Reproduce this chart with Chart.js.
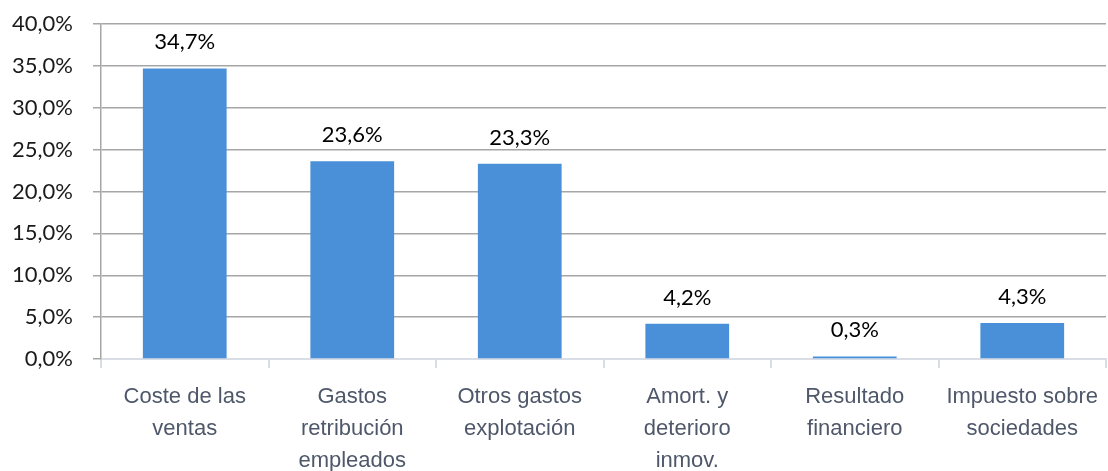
<!DOCTYPE html>
<html>
<head>
<meta charset="utf-8">
<script src="https://cdn.jsdelivr.net/npm/chart.js@4/dist/chart.umd.min.js"></script>
<style>
  html, body { margin: 0; padding: 0; background: #ffffff; }
  #wrap { width: 1108px; height: 471px; position: relative; }
</style>
</head>
<body>
<div id="wrap"><canvas id="c" width="1108" height="471"></canvas></div>
<script>
const categories = [
  ["Coste de las", "ventas"],
  ["Gastos", "retribución", "empleados"],
  ["Otros gastos", "explotación"],
  ["Amort. y", "deterioro", "inmov."],
  ["Resultado", "financiero"],
  ["Impuesto sobre", "sociedades"]
];
const values = [34.7, 23.6, 23.3, 4.2, 0.3, 4.3];
const yTicks = [0, 5, 10, 15, 20, 25, 30, 35, 40];

const fmt = v => v.toFixed(1).replace('.', ',') + '%';

const dataLabels = {
  id: 'dataLabels',
  afterDatasetsDraw(chart) {
    const ctx = chart.ctx;
    const meta = chart.getDatasetMeta(0);
    ctx.save();
    ctx.font = '22px Lato';
    ctx.fillStyle = '#000000';
    ctx.textAlign = 'center';
    ctx.textBaseline = 'alphabetic';
    meta.data.forEach((bar, i) => {
      ctx.fillText(fmt(values[i]), bar.x, bar.y - 19);
    });
    ctx.restore();
  }
};

new Chart(document.getElementById('c'), {
  type: 'bar',
  data: {
    labels: categories,
    datasets: [{
      data: values,
      backgroundColor: '#4a90d9',
      barPercentage: 0.5,
      categoryPercentage: 1.0
    }]
  },
  options: {
    responsive: false,
    animation: false,
    layout: { padding: { top: 24, right: 2, left: 0, bottom: 0 } },
    plugins: { legend: { display: false }, tooltip: { enabled: false } },
    scales: {
      x: {
        offset: true,
        grid: {
          offset: true,
          drawOnChartArea: false,
          drawTicks: true,
          tickLength: 9,
          color: '#d9dde6',
          lineWidth: 2
        },
        border: { color: '#d9dde6', width: 2 },
        ticks: {
          maxRotation: 0,
          autoSkip: false,
          padding: 13,
          color: '#4f586a',
          font: { family: 'Liberation Sans', size: 22, lineHeight: 1.45 }
        },
        afterFit(scale) { scale.height = 112; scale.paddingLeft = 0; scale.paddingRight = 0; }
      },
      y: {
        min: 0,
        max: 40,
        afterBuildTicks(scale) { scale.ticks = yTicks.map(v => ({ value: v })); },
        grid: {
          color: ctx => (ctx.tick && ctx.tick.value === 0) ? 'rgba(0,0,0,0)' : '#a6a6a6',
          tickColor: '#a6a6a6',
          tickLength: 8,
          lineWidth: 1.5
        },
        border: { color: '#a6a6a6', width: 1.5 },
        ticks: {
          padding: 20,
          color: '#1a1a1a',
          font: { family: 'Lato', size: 22 },
          callback: v => fmt(v)
        },
        afterFit(scale) { scale.width = 101; scale.paddingTop = 0; scale.paddingBottom = 0; }
      }
    }
  },
  plugins: [dataLabels]
});
</script>
</body>
</html>
